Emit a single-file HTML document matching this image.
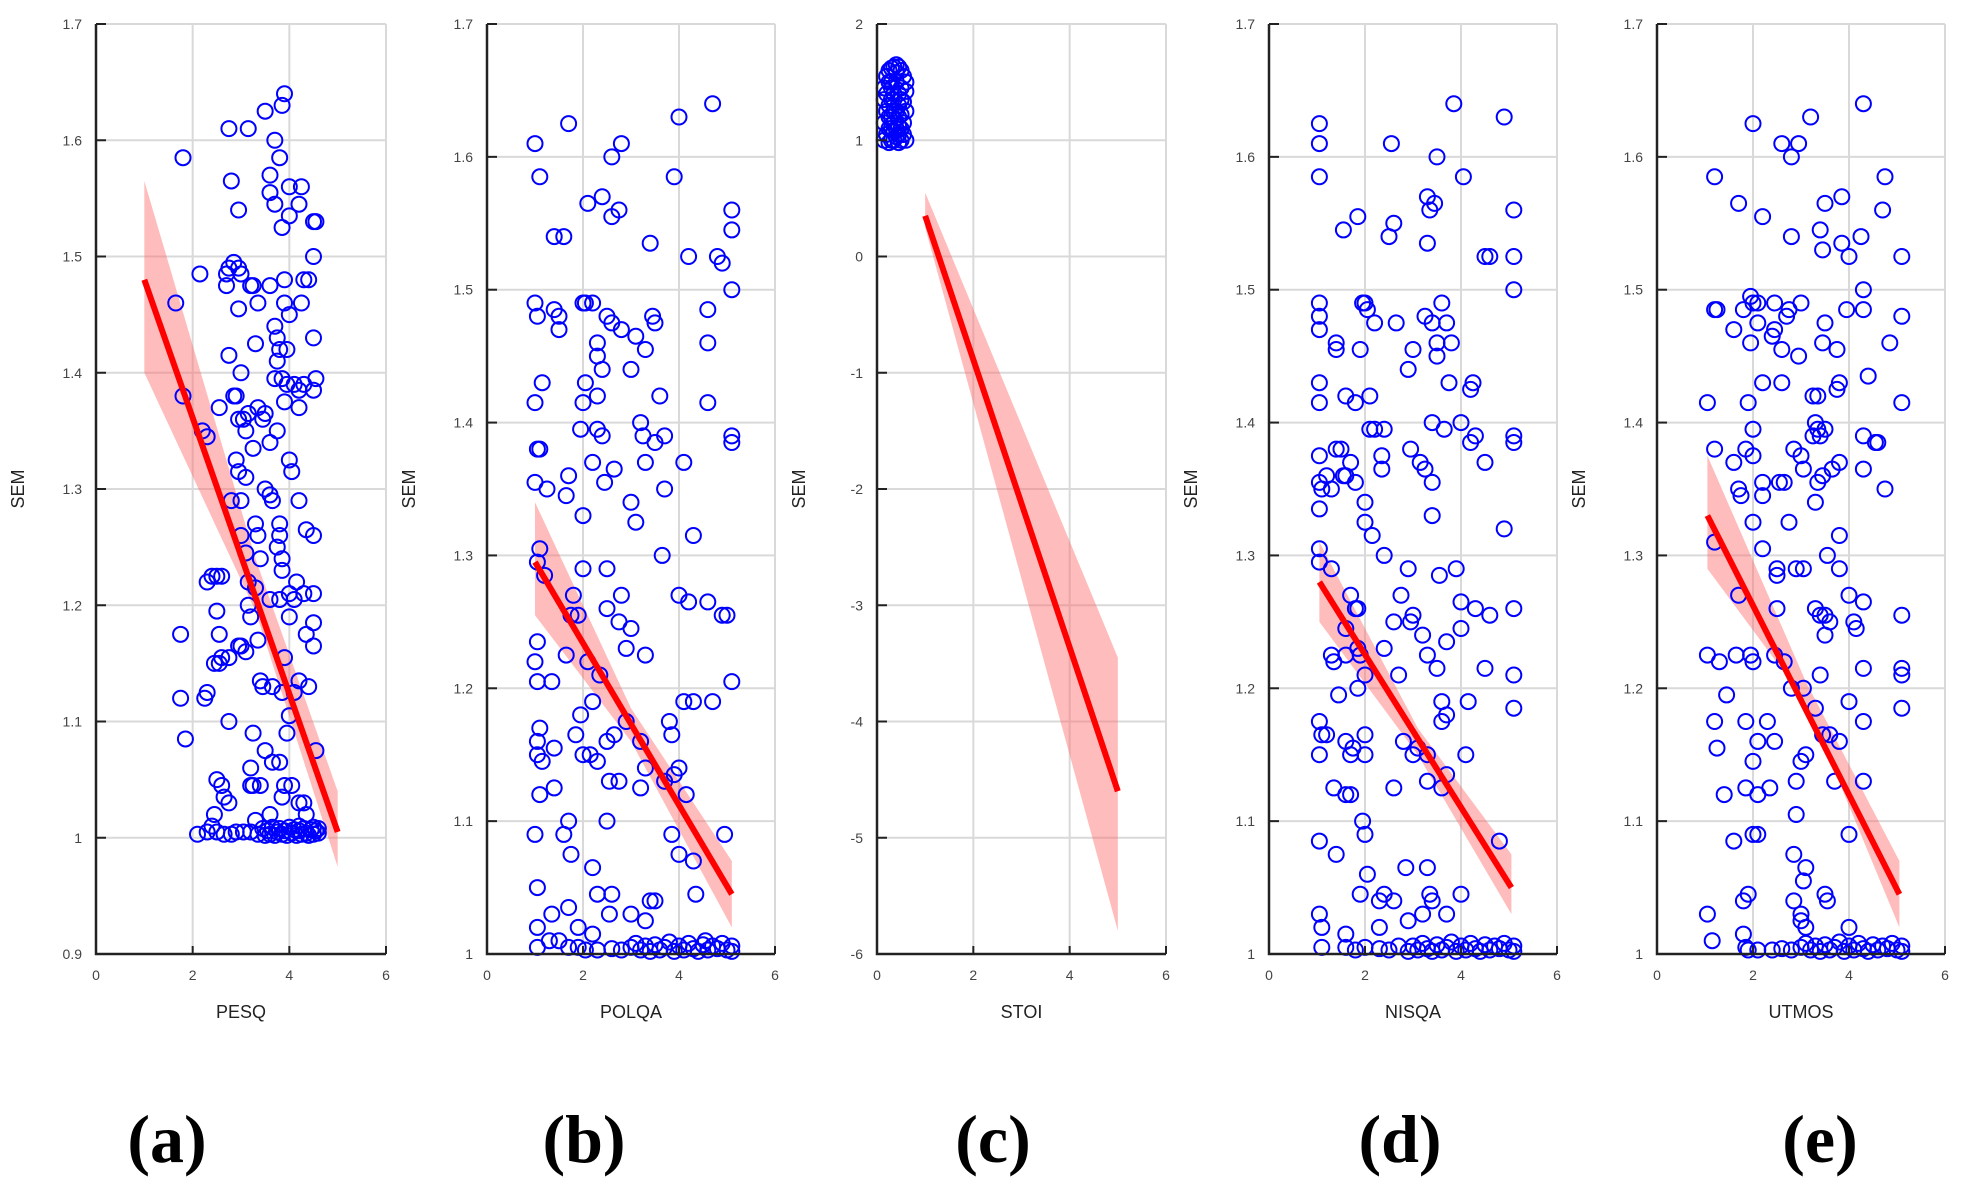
<!DOCTYPE html>
<html><head><meta charset="utf-8"><style>
html,body{margin:0;padding:0;background:#fff;}
svg{display:block;}
text{font-family:"Liberation Sans",sans-serif;}
text.plabel{font-family:"Liberation Serif",serif;font-weight:bold;}
</style></head><body>
<svg id="fig" width="1964" height="1191" viewBox="0 0 1964 1191" xmlns="http://www.w3.org/2000/svg"></svg>
<script>
// ---- Panel (a) PESQ ----
const aPoints=[1.8,1.585,1.65,1.46,1.8,1.38,2.2,1.35,2.3,1.345,1.75,1.175,1.75,1.12,1.85,1.085,2.15,1.485,2.75,1.61,3.15,1.61,3.5,1.625,3.9,1.64,3.85,1.63,3.7,1.6,3.8,1.585,2.8,1.565,3.6,1.57,3.6,1.555,4.0,1.56,4.25,1.56,3.7,1.545,4.2,1.545,2.95,1.54,4.0,1.535,3.85,1.525,4.5,1.53,4.55,1.53,2.75,1.49,2.85,1.495,2.95,1.49,3.0,1.485,2.7,1.475,2.7,1.485,2.95,1.455,3.2,1.475,3.25,1.475,3.35,1.46,3.6,1.475,3.9,1.48,3.9,1.46,4.0,1.45,4.3,1.48,4.4,1.48,4.5,1.5,4.25,1.46,3.3,1.425,3.7,1.44,3.75,1.43,3.8,1.42,3.75,1.41,3.95,1.42,4.5,1.43,2.75,1.415,3.0,1.4,2.85,1.38,2.9,1.38,3.7,1.395,3.85,1.395,3.95,1.39,4.1,1.39,4.2,1.385,4.3,1.39,4.5,1.385,4.55,1.395,4.2,1.37,3.9,1.375,2.55,1.37,3.35,1.37,3.45,1.36,3.5,1.365,3.15,1.365,3.05,1.36,2.95,1.36,3.1,1.35,3.75,1.35,3.25,1.335,3.6,1.34,2.9,1.325,2.95,1.315,3.1,1.31,4.0,1.325,4.05,1.315,3.5,1.3,3.6,1.295,3.65,1.29,4.2,1.29,2.8,1.29,3.0,1.29,3.3,1.27,3.8,1.27,3.8,1.26,3.35,1.26,3.0,1.26,3.1,1.245,3.4,1.24,3.75,1.25,3.85,1.24,4.35,1.265,4.5,1.26,3.85,1.23,2.4,1.225,2.5,1.225,2.6,1.225,2.3,1.22,3.15,1.22,3.3,1.215,4.15,1.22,4.0,1.21,4.3,1.21,4.5,1.21,3.15,1.2,3.6,1.205,3.8,1.205,4.1,1.205,2.5,1.195,3.2,1.19,4.0,1.19,4.5,1.185,2.55,1.175,3.35,1.17,4.35,1.175,2.95,1.165,3.0,1.165,3.1,1.16,2.75,1.155,2.6,1.155,2.55,1.15,2.45,1.15,3.9,1.155,4.5,1.165,3.4,1.135,3.45,1.13,3.65,1.13,3.85,1.125,4.1,1.125,4.2,1.135,4.4,1.13,2.25,1.12,2.3,1.125,4.0,1.105,2.75,1.1,3.25,1.09,3.95,1.09,3.5,1.075,3.65,1.065,3.8,1.065,4.55,1.075,3.2,1.06,2.5,1.05,2.6,1.045,3.2,1.045,3.25,1.045,3.4,1.045,3.9,1.045,4.05,1.045,2.65,1.035,2.75,1.03,4.2,1.03,4.3,1.03,3.85,1.035,2.45,1.02,3.3,1.015,3.6,1.02,4.35,1.02,2.4,1.01,2.3,1.005,2.1,1.003,2.5,1.005,2.65,1.003,2.8,1.003,2.9,1.005,3.05,1.005,3.2,1.005,3.35,1.003,3.45,1.008,3.5,1.002,3.55,1.006,3.6,1.003,3.65,1.009,3.7,1.002,3.75,1.005,3.8,1.008,3.85,1.003,3.9,1.006,3.95,1.002,4.0,1.009,4.05,1.004,4.1,1.007,4.15,1.002,4.2,1.006,4.25,1.003,4.3,1.008,4.35,1.004,4.4,1.002,4.45,1.007,4.5,1.003,4.55,1.006,4.6,1.004,4.6,1.008,4.5,1.009,4.2,1.01];
const aLine=[1,1.48,5,1.005];
const aBandX=[1,3.3,5];
const aBandHi=[1.565,1.24,1.04];
const aBandLo=[1.4,1.195,0.975];

// ---- Panel (b) POLQA ----
const bPoints=[1.0,1.61,1.1,1.585,1.7,1.625,2.8,1.61,2.6,1.6,4.0,1.63,4.7,1.64,2.4,1.57,2.6,1.555,2.75,1.56,2.1,1.565,3.9,1.585,5.1,1.56,5.1,1.545,1.4,1.54,1.6,1.54,3.4,1.535,4.2,1.525,4.8,1.525,4.9,1.52,5.1,1.5,1.0,1.49,1.05,1.48,1.4,1.485,1.5,1.48,2.0,1.49,2.05,1.49,2.2,1.49,2.5,1.48,2.6,1.475,2.8,1.47,3.45,1.48,3.5,1.475,4.6,1.485,1.5,1.47,2.3,1.46,2.3,1.45,3.1,1.465,3.3,1.455,4.6,1.46,2.4,1.44,3.0,1.44,1.15,1.43,2.05,1.43,2.3,1.42,3.6,1.42,1.0,1.415,2.0,1.415,4.6,1.415,2.3,1.395,2.4,1.39,3.2,1.4,3.25,1.39,3.7,1.39,1.95,1.395,5.1,1.39,5.1,1.385,1.1,1.38,1.05,1.38,3.5,1.385,2.2,1.37,2.65,1.365,3.3,1.37,4.1,1.37,1.7,1.36,2.45,1.355,3.7,1.35,1.25,1.35,1.65,1.345,1.0,1.355,3.0,1.34,2.0,1.33,3.1,1.325,3.65,1.3,4.3,1.315,1.1,1.305,2.0,1.29,2.5,1.29,1.05,1.295,1.2,1.285,1.8,1.27,2.8,1.27,2.5,1.26,1.75,1.255,1.9,1.255,2.75,1.25,3.0,1.245,2.9,1.23,3.3,1.225,4.0,1.27,4.2,1.265,4.6,1.265,4.9,1.255,5.0,1.255,1.05,1.235,1.0,1.22,1.65,1.225,2.1,1.22,1.35,1.205,1.05,1.205,2.35,1.21,4.1,1.19,4.3,1.19,4.7,1.19,5.1,1.205,1.95,1.18,2.2,1.19,1.85,1.165,1.1,1.17,2.5,1.16,2.65,1.165,2.9,1.175,3.8,1.175,3.85,1.165,1.05,1.15,1.15,1.145,1.4,1.155,1.05,1.16,2.0,1.15,2.15,1.15,2.3,1.145,3.2,1.16,3.3,1.14,3.9,1.135,4.0,1.14,3.7,1.13,1.1,1.12,1.4,1.125,2.55,1.13,2.75,1.13,3.2,1.125,4.15,1.12,1.7,1.1,2.5,1.1,1.0,1.09,1.6,1.09,3.85,1.09,4.95,1.09,1.75,1.075,4.0,1.075,4.3,1.07,2.2,1.065,1.05,1.05,2.3,1.045,2.6,1.045,4.35,1.045,3.4,1.04,3.5,1.04,1.7,1.035,1.35,1.03,2.55,1.03,3.0,1.03,3.3,1.025,1.05,1.02,1.9,1.02,2.2,1.015,1.3,1.01,1.5,1.01,1.05,1.005,1.7,1.005,1.9,1.005,2.05,1.003,2.3,1.003,2.6,1.004,2.8,1.003,3.0,1.005,3.1,1.008,3.2,1.003,3.3,1.006,3.4,1.002,3.5,1.007,3.6,1.003,3.7,1.005,3.8,1.009,3.9,1.002,4.0,1.006,4.1,1.003,4.2,1.008,4.3,1.004,4.4,1.002,4.5,1.007,4.6,1.003,4.7,1.006,4.8,1.004,4.9,1.008,5.0,1.003,5.1,1.006,5.1,1.002,4.55,1.01];
const bLine=[1,1.295,5.1,1.045];
const bBandX=[1,3,5.1];
const bBandHi=[1.34,1.185,1.07];
const bBandLo=[1.255,1.16,1.02];

// ---- Panel (c) STOI ----
const cPoints=[0.2,1.55,0.25,1.6,0.3,1.62,0.35,1.63,0.4,1.65,0.45,1.63,0.5,1.6,0.55,1.55,0.6,1.5,0.15,1.45,0.2,1.4,0.3,1.45,0.4,1.5,0.5,1.45,0.6,1.42,0.15,1.35,0.25,1.3,0.35,1.35,0.45,1.3,0.55,1.33,0.2,1.25,0.3,1.2,0.4,1.25,0.5,1.22,0.6,1.25,0.15,1.15,0.25,1.1,0.35,1.15,0.45,1.12,0.55,1.15,0.2,1.05,0.3,1.0,0.4,1.03,0.5,1.0,0.6,1.0,0.15,1.0,0.25,0.98,0.45,0.98,0.35,1.08,0.55,1.05,0.3,1.5,0.35,1.4,0.45,1.4,0.25,1.2,0.35,1.25,0.45,1.2,0.3,1.1,0.4,1.1,0.5,1.1,0.35,1.0,0.45,1.05,0.25,1.5,0.4,1.58,0.3,1.35,0.5,1.35];
const cLine=[1,0.35,5,-4.6];
const cBandX=[1,5];
const cBandHi=[0.55,-3.45];
const cBandLo=[0.25,-5.8];

// ---- Panel (d) NISQA ----
const dPoints=[1.05,1.625,1.05,1.61,1.05,1.585,2.55,1.61,3.85,1.64,4.9,1.63,3.5,1.6,4.05,1.585,1.85,1.555,3.3,1.57,3.35,1.56,3.45,1.565,5.1,1.56,1.55,1.545,2.5,1.54,2.6,1.55,3.3,1.535,4.5,1.525,4.6,1.525,5.1,1.525,5.1,1.5,1.05,1.49,1.05,1.48,1.05,1.47,1.4,1.46,1.4,1.455,1.95,1.49,2.0,1.49,2.05,1.485,2.2,1.475,2.65,1.475,3.25,1.48,3.6,1.49,3.7,1.475,3.4,1.475,3.5,1.46,3.5,1.45,3.8,1.46,1.9,1.455,3.0,1.455,2.9,1.44,3.75,1.43,4.2,1.425,4.25,1.43,1.05,1.43,1.05,1.415,1.6,1.42,1.8,1.415,2.1,1.42,2.1,1.395,2.2,1.395,2.4,1.395,3.4,1.4,3.65,1.395,4.0,1.4,4.2,1.385,4.3,1.39,5.1,1.39,5.1,1.385,1.05,1.375,1.4,1.38,1.5,1.38,1.7,1.37,1.2,1.36,1.05,1.355,1.55,1.36,1.6,1.36,1.8,1.355,1.1,1.35,1.3,1.35,2.35,1.375,2.35,1.365,2.95,1.38,3.15,1.37,3.25,1.365,4.5,1.37,3.4,1.355,2.0,1.34,1.05,1.335,2.0,1.325,2.15,1.315,3.4,1.33,4.9,1.32,1.05,1.305,1.05,1.295,2.4,1.3,1.3,1.29,3.55,1.285,3.9,1.29,2.9,1.29,2.75,1.27,1.7,1.27,1.8,1.26,1.85,1.26,4.0,1.265,4.3,1.26,4.6,1.255,5.1,1.26,2.6,1.25,2.95,1.25,3.0,1.255,3.2,1.24,4.0,1.245,3.7,1.235,1.6,1.245,1.3,1.225,1.35,1.22,1.6,1.225,1.85,1.23,1.9,1.225,2.4,1.23,3.3,1.225,1.85,1.2,2.0,1.21,2.7,1.21,3.5,1.215,4.5,1.215,5.1,1.21,1.45,1.195,3.6,1.19,4.15,1.19,5.1,1.185,1.05,1.175,1.1,1.165,1.2,1.165,1.6,1.16,1.75,1.155,2.0,1.165,2.8,1.16,3.1,1.155,3.6,1.175,3.7,1.18,3.0,1.15,3.3,1.15,1.05,1.15,1.7,1.15,2.0,1.15,3.3,1.13,3.6,1.125,3.7,1.135,4.1,1.15,1.35,1.125,1.6,1.12,1.7,1.12,2.6,1.125,1.95,1.1,2.0,1.09,1.05,1.085,4.8,1.085,1.4,1.075,2.85,1.065,3.3,1.065,3.35,1.045,3.4,1.04,2.05,1.06,2.3,1.04,1.9,1.045,2.4,1.045,2.6,1.04,3.7,1.03,4.0,1.045,1.05,1.03,1.1,1.02,2.9,1.025,3.2,1.03,2.3,1.02,1.6,1.015,1.1,1.005,1.6,1.005,1.8,1.003,2.0,1.005,2.3,1.004,2.5,1.003,2.7,1.006,2.9,1.002,3.0,1.006,3.1,1.003,3.2,1.008,3.3,1.004,3.4,1.002,3.5,1.007,3.6,1.003,3.7,1.005,3.8,1.009,3.9,1.002,4.0,1.006,4.1,1.003,4.2,1.008,4.3,1.004,4.4,1.002,4.5,1.007,4.6,1.003,4.7,1.006,4.8,1.004,4.9,1.008,5.0,1.003,5.1,1.006,5.1,1.002];
const dLine=[1.05,1.28,5.05,1.05];
const dBandX=[1.05,3.1,5.05];
const dBandHi=[1.31,1.17,1.075];
const dBandLo=[1.25,1.15,1.03];

// ---- Panel (e) UTMOS ----
const ePoints=[2.0,1.625,3.2,1.63,4.3,1.64,2.6,1.61,2.95,1.61,2.8,1.6,1.2,1.585,4.75,1.585,1.7,1.565,3.5,1.565,3.85,1.57,4.7,1.56,2.2,1.555,3.4,1.545,2.8,1.54,4.25,1.54,3.45,1.53,3.85,1.535,4.0,1.525,5.1,1.525,4.3,1.5,1.2,1.485,1.25,1.485,1.95,1.495,2.0,1.49,2.1,1.49,1.8,1.485,2.7,1.48,2.75,1.485,3.0,1.49,2.45,1.49,3.5,1.475,3.95,1.485,4.3,1.485,5.1,1.48,1.6,1.47,2.1,1.475,2.45,1.47,1.95,1.46,2.4,1.465,2.6,1.455,2.95,1.45,3.45,1.46,3.75,1.455,4.85,1.46,2.2,1.43,2.6,1.43,3.25,1.42,3.35,1.42,3.75,1.425,3.8,1.43,4.4,1.435,1.05,1.415,1.9,1.415,5.1,1.415,2.0,1.395,3.3,1.4,3.35,1.395,3.4,1.39,3.25,1.39,3.5,1.395,2.85,1.38,4.3,1.39,4.55,1.385,4.6,1.385,1.2,1.38,1.85,1.38,2.0,1.375,1.6,1.37,3.0,1.375,3.05,1.365,3.8,1.37,3.65,1.365,4.3,1.365,2.55,1.355,2.65,1.355,3.35,1.355,3.45,1.36,1.7,1.35,1.75,1.345,2.2,1.355,2.2,1.345,4.75,1.35,3.3,1.34,2.0,1.325,2.75,1.325,3.8,1.315,2.2,1.305,1.2,1.31,2.9,1.29,3.55,1.3,3.05,1.29,2.5,1.29,2.5,1.285,3.8,1.29,1.7,1.27,4.0,1.27,4.3,1.265,2.5,1.26,3.3,1.26,3.4,1.255,3.5,1.255,3.6,1.25,3.5,1.24,4.15,1.245,4.1,1.25,5.1,1.255,1.05,1.225,1.3,1.22,1.65,1.225,1.95,1.225,2.0,1.22,2.45,1.225,2.65,1.22,3.4,1.21,3.05,1.2,2.8,1.2,4.3,1.215,5.1,1.215,5.1,1.21,1.45,1.195,3.3,1.185,4.0,1.19,4.3,1.175,5.1,1.185,1.2,1.175,1.85,1.175,2.3,1.175,2.45,1.16,3.45,1.165,3.6,1.165,3.8,1.16,1.25,1.155,2.1,1.16,2.0,1.145,3.0,1.145,3.1,1.15,1.4,1.12,1.85,1.125,2.1,1.12,2.35,1.125,2.9,1.13,3.7,1.13,4.3,1.13,2.9,1.105,2.0,1.09,2.1,1.09,1.6,1.085,4.0,1.09,2.85,1.075,3.1,1.065,3.05,1.055,1.9,1.045,1.8,1.04,2.85,1.04,3.5,1.045,3.55,1.04,3.0,1.03,3.0,1.025,3.1,1.02,4.0,1.02,1.05,1.03,1.15,1.01,1.8,1.015,1.85,1.005,1.9,1.003,2.1,1.003,2.4,1.003,2.6,1.004,2.8,1.003,3.0,1.005,3.1,1.008,3.2,1.003,3.3,1.006,3.4,1.002,3.5,1.007,3.6,1.003,3.7,1.005,3.8,1.009,3.9,1.002,4.0,1.006,4.1,1.003,4.2,1.008,4.3,1.004,4.4,1.002,4.5,1.007,4.6,1.003,4.7,1.006,4.8,1.004,4.9,1.008,5.0,1.003,5.1,1.006,5.1,1.002];
const eLine=[1.05,1.33,5.05,1.045];
const eBandX=[1.05,3.1,5.05];
const eBandHi=[1.375,1.205,1.07];
const eBandLo=[1.29,1.19,1.02];

const aYTicks=[0.9,1,1.1,1.2,1.3,1.4,1.5,1.6,1.7];
const bYTicks=[1,1.1,1.2,1.3,1.4,1.5,1.6,1.7];
const cYTicks=[-6,-5,-4,-3,-2,-1,0,1,2];
const xTicks=[0,2,4,6];

const NS='http://www.w3.org/2000/svg';
const svg=document.getElementById('fig');
function mk(tag,attrs,parent){const e=document.createElementNS(NS,tag);for(const k in attrs)e.setAttribute(k,attrs[k]);(parent||svg).appendChild(e);return e;}

function panel(id,left,right,top,bottom,yMin,yMax,yTicks,xlabel,letter,labelX,pts,line,bx,bhi,blo){
  const g=mk('g',{});
  
  
  const sx=v=>left+(v-0)/(6-0)*(right-left);
  const sy=v=>bottom-(v-yMin)/(yMax-yMin)*(bottom-top);
  const grid=mk('g',{},g);
  
  
  xTicks.forEach(t=>{if(t>0)mk('line',{x1:sx(t),x2:sx(t),y1:top,y2:bottom,stroke:'#d9d9d9','stroke-width':2},grid);});
  yTicks.forEach(t=>{if(t>yMin)mk('line',{x1:left,x2:right,y1:sy(t),y2:sy(t),stroke:'#d9d9d9','stroke-width':2},grid);});
  let d='';
  bx.forEach((x,i)=>{d+=(i?'L':'M')+sx(x)+' '+sy(bhi[i]);});
  for(let i=bx.length-1;i>=0;i--)d+='L'+sx(bx[i])+' '+sy(blo[i]);
  const band=mk('path',{d:d+'Z',fill:'#ff6b6b','fill-opacity':0.45,stroke:'none'},g);
  
  
  const pg=mk('g',{},g);
  
  
  for(let i=0;i<pts.length;i+=2){
    const c=mk('circle',{cx:sx(pts[i]),cy:sy(pts[i+1]),r:7.5,fill:'none',stroke:'#0000ff','stroke-width':2},pg);
    
    
  }
  const ln=mk('line',{x1:sx(line[0]),y1:sy(line[1]),x2:sx(line[2]),y2:sy(line[3]),stroke:'#ff0000','stroke-width':6},g);
  
  
  const ax=mk('path',{d:`M${left} ${top}L${left} ${bottom}L${right} ${bottom}`,fill:'none',stroke:'#222','stroke-width':2.5},g);
  
  
  yTicks.forEach(t=>{
    mk('line',{x1:left,x2:left+10,y1:sy(t),y2:sy(t),stroke:'#222','stroke-width':2},g);
    const tx=mk('text',{x:left-14,y:sy(t)+5,'text-anchor':'end','font-size':14,fill:'#444'},g);
    tx.textContent=String(t);
    
    
  });
  xTicks.forEach(t=>{
    mk('line',{x1:sx(t),x2:sx(t),y1:bottom,y2:bottom-8,stroke:'#222','stroke-width':2},g);
    const tx=mk('text',{x:sx(t),y:bottom+26,'text-anchor':'middle','font-size':14,fill:'#444'},g);
    tx.textContent=String(t);
    
    
  });
  const xl=mk('text',{x:(left+right)/2,y:bottom+64,'text-anchor':'middle','font-size':18,fill:'#222'},g);
  xl.textContent=xlabel;
  
  
  const yl=mk('text',{x:0,y:0,'text-anchor':'middle','font-size':18,fill:'#222',transform:`translate(${left-72},${(top+bottom)/2}) rotate(-90)`},g);
  yl.textContent='SEM';
  
  
  const pl=mk('text',{x:labelX,y:1162,'text-anchor':'middle','font-size':68,fill:'#000','class':'plabel'},g);
  pl.textContent='('+letter+')';
  
  
}
panel('a',96,386,24,954,0.9,1.7,aYTicks,'PESQ','a',167,aPoints,aLine,aBandX,aBandHi,aBandLo);
panel('b',487,775,24,954,1,1.7,bYTicks,'POLQA','b',584,bPoints,bLine,bBandX,bBandHi,bBandLo);
panel('c',877,1166,24,954,-6,2,cYTicks,'STOI','c',993,cPoints,cLine,cBandX,cBandHi,cBandLo);
panel('d',1269,1557,24,954,1,1.7,bYTicks,'NISQA','d',1400,dPoints,dLine,dBandX,dBandHi,dBandLo);
panel('e',1657,1945,24,954,1,1.7,bYTicks,'UTMOS','e',1820,ePoints,eLine,eBandX,eBandHi,eBandLo);
</script>
</body></html>
